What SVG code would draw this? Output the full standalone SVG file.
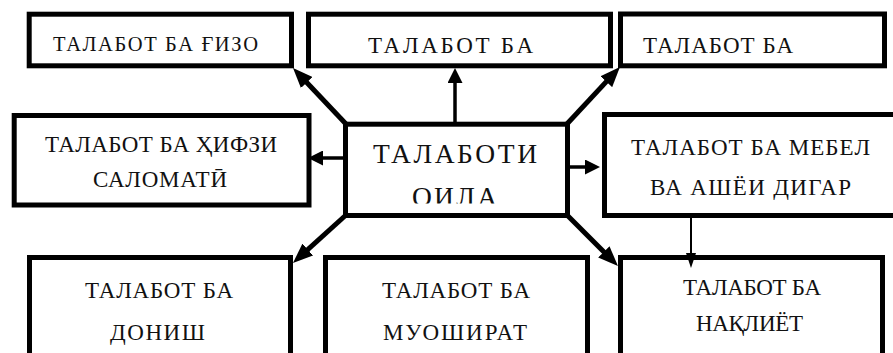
<svg xmlns="http://www.w3.org/2000/svg" width="893" height="353" viewBox="0 0 893 353">
<style>
.box{fill:#fff;stroke:#000;stroke-width:5}
.t{font-family:"Liberation Serif","DejaVu Serif",serif;fill:#111;font-size:23px}
.s20{font-size:20.5px}
.s27{font-size:27.5px}
.thick{stroke:#000;stroke-width:5;fill:none}
.med{stroke:#000;stroke-width:3.5;fill:none}
.thin{stroke:#000;stroke-width:2;fill:none}
</style>
<defs>
<marker id="ahThick" markerUnits="userSpaceOnUse" markerWidth="20" markerHeight="16" viewBox="0 0 20 16" refX="12" refY="8" orient="auto"><path d="M0,0 L20,8 L0,16 z" fill="#000"/></marker>
<marker id="ahMed" markerUnits="userSpaceOnUse" markerWidth="15" markerHeight="15" viewBox="0 0 15 15" refX="10" refY="7.5" orient="auto"><path d="M0,0 L15,7.5 L0,15 z" fill="#000"/></marker>
<marker id="ahThin" markerUnits="userSpaceOnUse" markerWidth="15" markerHeight="10" viewBox="0 0 15 10" refX="10" refY="5" orient="auto"><path d="M0,0 L15,5 L0,10 z" fill="#000"/></marker>
<clipPath id="clipC"><rect x="345" y="124" width="223" height="79.5"/></clipPath>
</defs>
<rect width="893" height="353" fill="#fff"/>

<g id="node-food">
<rect class="box" x="29.2" y="14.2" width="262.3" height="51.6"/>
<text class="t s20" x="53" y="51" textLength="205" lengthAdjust="spacing">ТАЛАБОТ БА ҒИЗО</text>
</g>
<g id="node-top-middle">
<rect class="box" x="308.5" y="14.2" width="302" height="51.6"/>
<text class="t" x="368" y="53" textLength="165" lengthAdjust="spacing">ТАЛАБОТ БА</text>
</g>
<g id="node-top-right">
<rect class="box" x="620.5" y="14" width="264" height="51.8"/>
<text class="t" x="643" y="53" textLength="150" lengthAdjust="spacing">ТАЛАБОТ БА</text>
</g>
<g id="node-health">
<rect class="box" x="14.2" y="115.5" width="294.8" height="89.5"/>
<text class="t" x="45" y="152" textLength="232" lengthAdjust="spacing">ТАЛАБОТ БА ҲИФЗИ</text>
<text class="t" x="93" y="187" textLength="134" lengthAdjust="spacing">САЛОМАТӢ</text>
</g>
<g id="node-center">
<rect class="box" x="345.5" y="124.2" width="222" height="91.3"/>
<g clip-path="url(#clipC)">
<text class="t s27" x="373" y="163" textLength="164" lengthAdjust="spacing">ТАЛАБОТИ</text>
<text class="t s27" x="412" y="206" textLength="85" lengthAdjust="spacing">ОИЛА</text>
</g>
</g>
<g id="node-furniture">
<rect class="box" x="604.5" y="114.5" width="300" height="101"/>
<text class="t" x="631" y="155" textLength="239" lengthAdjust="spacing">ТАЛАБОТ БА МЕБЕЛ</text>
<text class="t" x="650" y="195" textLength="201" lengthAdjust="spacing">ВА АШЁИ ДИГАР</text>
</g>
<g id="node-knowledge">
<rect class="box" x="29.5" y="257.5" width="261" height="120"/>
<text class="t" x="85" y="298" textLength="148" lengthAdjust="spacing">ТАЛАБОТ БА</text>
<text class="t" x="110" y="340" textLength="95" lengthAdjust="spacing">ДОНИШ</text>
</g>
<g id="node-communication">
<rect class="box" x="325.5" y="257.5" width="262" height="120"/>
<text class="t" x="382" y="298" textLength="148" lengthAdjust="spacing">ТАЛАБОТ БА</text>
<text class="t" x="383" y="340" textLength="144" lengthAdjust="spacing">МУОШИРАТ</text>
</g>
<g id="node-transport">
<rect class="box" x="620.5" y="257.5" width="262" height="120"/>
<text class="t" x="683" y="295" textLength="138" lengthAdjust="spacing">ТАЛАБОТ БА</text>
<text class="t" x="696" y="331" textLength="107" lengthAdjust="spacing">НАҚЛИЁТ</text>
</g>

<g id="connectors">
<line class="thick" x1="346" y1="124" x2="298.5" y2="73.8" marker-end="url(#ahThick)"/>
<line class="thick" x1="566" y1="125" x2="614.5" y2="72.9" marker-end="url(#ahThick)"/>
<line class="thick" x1="346" y1="215" x2="298.9" y2="257.6" marker-end="url(#ahThick)"/>
<line class="thick" x1="567" y1="215" x2="612.3" y2="260.3" marker-end="url(#ahThick)"/>
<line class="med" x1="455" y1="124" x2="455" y2="73" stroke-width="4" marker-end="url(#ahMed)"/>
<line class="med" x1="343" y1="158" x2="313" y2="158" stroke-width="3" marker-end="url(#ahMed)"/>
<line class="med" x1="570" y1="167" x2="595" y2="167" stroke-width="3" marker-end="url(#ahMed)"/>
<line class="thin" x1="691" y1="213" x2="691" y2="263" marker-end="url(#ahThin)"/>
</g>
</svg>
